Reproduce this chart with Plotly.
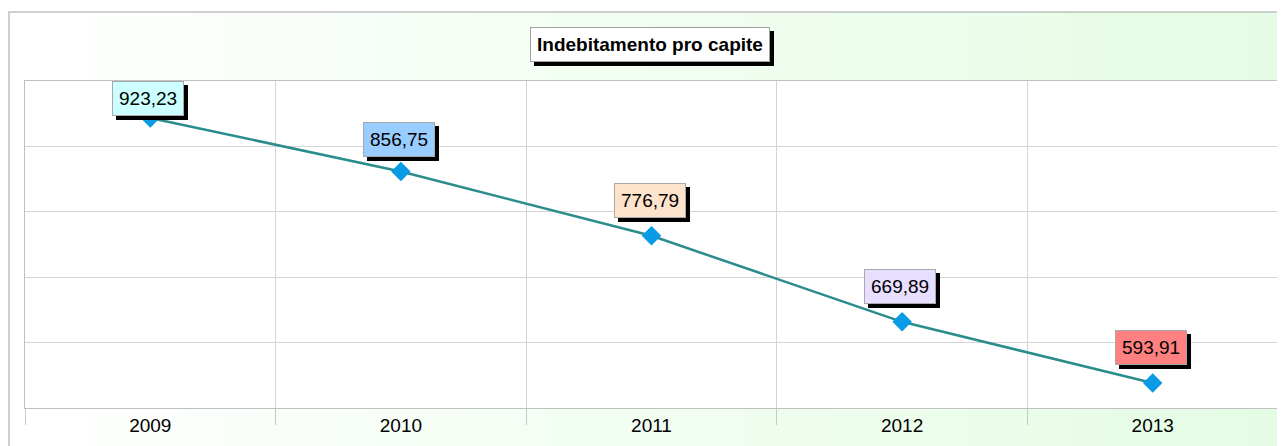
import plotly.graph_objects as go

# ---- data ----
years = ["2009", "2010", "2011", "2012", "2013"]
values = [923.23, 856.75, 776.79, 669.89, 593.91]
title_text = "Indebitamento pro capite"

# ---- style ----
label_colors = ["#ccffff", "#99ccff", "#fde2cc", "#e8deff", "#ff8080"]
label_yshift = [19, 32, 35, 35, 35]
line_color = "#2a8c8c"
marker_color = "#0a9be6"
grid_color = "#d4d4d4"

OFF = 8  # page body margin
W, H = 1285 - OFF, 446 - OFF
L, R, T, B = 25 - OFF, 1278 - OFF, 81 - OFF, 408 - OFF
y_min, y_max = 562.8, 969.2
xpos = list(range(len(years)))


def px_x(p):
    return (p - OFF - L) / (R - L)


def px_y(p):
    return (B - (p - OFF)) / (B - T)


fig = go.Figure()
fig.add_trace(go.Scatter(
    x=xpos, y=values, mode="lines+markers",
    line=dict(color=line_color, width=2.5),
    marker=dict(symbol="diamond", size=15, color=marker_color, line=dict(width=0)),
    hoverinfo="skip", showlegend=False, cliponaxis=False,
))

shapes = []
n = 64
x0p, x1p = 9, 1290
c0 = (255, 255, 255)
c1 = (228, 252, 228)
for i in range(n):
    a = x0p + (x1p - x0p) * i / n
    b = x0p + (x1p - x0p) * (i + 1) / n + 0.5
    t = i / (n - 1)
    col = tuple(round(c0[k] + (c1[k] - c0[k]) * t) for k in range(3))
    shapes.append(dict(type="rect", xref="paper", yref="paper",
                       x0=px_x(a), x1=px_x(b), y0=px_y(470), y1=px_y(12),
                       fillcolor="rgb(%d,%d,%d)" % col, line=dict(width=0), layer="below"))
shapes.append(dict(type="rect", xref="paper", yref="paper",
                   x0=px_x(9), x1=px_x(1300), y0=px_y(480), y1=px_y(12),
                   fillcolor="rgba(0,0,0,0)", line=dict(color="#c0c0c0", width=1.5), layer="below"))
shapes.append(dict(type="rect", xref="paper", yref="paper",
                   x0=0, x1=1, y0=0, y1=1,
                   fillcolor="white", line=dict(width=0), layer="below"))

annotations = []
for shadow in (True, False):
    annotations.append(dict(
        xref="paper", yref="paper", x=px_x(650), y=px_y(44),
        text="<b>%s</b>" % title_text, showarrow=False,
        font=dict(family="Arial, Liberation Sans", size=19, color="black"),
        bgcolor="black" if shadow else "white",
        bordercolor="black" if shadow else "#a0a0a0", borderwidth=1, borderpad=6,
        xshift=4 if shadow else 0, yshift=-4 if shadow else 0,
        xanchor="center", yanchor="middle",
    ))
for xi, v, col, ys in zip(xpos, values, label_colors, label_yshift):
    txt = f"{v:.2f}".replace(".", ",")
    for shadow in (True, False):
        annotations.append(dict(
            x=xi, y=v, xref="x", yref="y", text=txt, showarrow=False,
            font=dict(family="Arial, Liberation Sans", size=19, color="black"),
            bgcolor="black" if shadow else col,
            bordercolor="black" if shadow else "#a8a8a8", borderwidth=1, borderpad=6,
            xshift=(4 if shadow else 0) - 2, yshift=ys - (4 if shadow else 0),
            xanchor="center", yanchor="middle",
        ))

fig.update_layout(
    width=W, height=H,
    margin=dict(l=L, r=W - R, t=T, b=H - B, pad=0),
    paper_bgcolor="white", plot_bgcolor="white",
    shapes=shapes, annotations=annotations,
    xaxis=dict(range=[-0.5, len(years) - 0.5], tickmode="array", tickvals=xpos, ticktext=years,
               tickangle=0, showgrid=False, ticks="",
               minor=dict(tick0=-0.5, dtick=1, showgrid=True, gridcolor=grid_color,
                          ticks="outside", ticklen=16, tickcolor="#c8c8c8", tickwidth=1),
               showline=True, linecolor="#c0c0c0", linewidth=1, mirror=True,
               tickfont=dict(family="Arial, Liberation Sans", size=19, color="black"),
               zeroline=False, fixedrange=True),
    yaxis=dict(range=[y_min, y_max], tick0=y_min, dtick=(y_max - y_min) / 5,
               showgrid=True, gridcolor=grid_color, showticklabels=False, ticks="",
               showline=True, linecolor="#c0c0c0", linewidth=1, mirror=True,
               zeroline=False, fixedrange=True),
    showlegend=False,
)

fig.write_html("out.html")
